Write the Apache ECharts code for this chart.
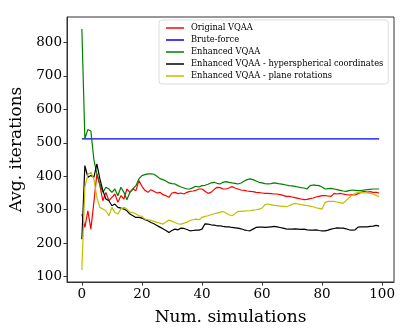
<!DOCTYPE html>
<html>
<head>
<meta charset="utf-8">
<script src="https://cdn.jsdelivr.net/npm/echarts@6/dist/echarts.min.js"></script>
<style>
  html, body { margin: 0; padding: 0; background: #fff; }
  #chart { width: 415px; height: 332px; }
</style>
</head>
<body>
<div id="chart"></div>
<script>
// simulation index 0..99
const simulations = Array.from({ length: 100 }, (_, i) => i);

const xTicks = [0, 20, 40, 60, 80, 100];
const yTicks = [100, 200, 300, 400, 500, 600, 700, 800];

const bruteForce = 512;

const originalVqaa = [
  287, 247, 297, 242, 322, 407, 372, 327, 352, 327,
  337, 347, 322, 342, 332, 362, 352, 362, 357, 387,
  370, 358, 352, 360, 355, 350, 352, 345, 342, 337,
  350, 352, 348, 350, 347, 352, 355, 356, 358, 362,
  362, 355, 349, 352, 360, 367, 366, 362, 362, 365,
  369, 365, 362, 359, 358, 356, 355, 354, 352, 351,
  350, 349, 349, 348, 347, 347, 345, 343, 340, 340,
  338, 336, 334, 332, 330, 331, 333, 335, 338, 340,
  342, 342, 341, 340, 349, 347, 349, 347, 345, 344,
  345, 344, 348, 352, 355, 353, 354, 352, 352, 350
];

const enhancedVqaa = [
  840, 512, 540, 535, 450, 407, 377, 352, 367, 362,
  352, 362, 342, 367, 352, 330, 352, 362, 372, 392,
  402, 405, 407, 407, 406, 400, 393, 390, 386, 380,
  378, 377, 372, 368, 365, 362, 362, 366, 370, 368,
  372, 373, 376, 380, 382, 379, 377, 382, 384, 382,
  380, 379, 377, 380, 385, 390, 392, 390, 386, 382,
  380, 378, 377, 378, 380, 379, 377, 376, 374, 372,
  371, 370, 368, 366, 365, 362, 372, 374, 373, 372,
  368, 362, 363, 364, 362, 360, 358, 356, 355, 357,
  359, 358, 357, 357, 359, 360, 361, 362, 362, 362
];

const hyperspherical = [
  212, 432, 397, 402, 397, 437, 392, 357, 332, 327,
  312, 317, 307, 305, 302, 297, 287, 282, 277, 277,
  275, 270, 267, 262, 258, 253, 248, 243, 238, 232,
  238, 242, 240, 245, 244, 241, 237, 238, 239, 239,
  242, 258, 257, 255, 254, 252, 252, 250, 249, 249,
  247, 246, 245, 243, 240, 238, 237, 242, 247, 248,
  248, 247, 248, 249, 250, 249, 247, 245, 243, 242,
  242, 243, 242, 241, 242, 240, 239, 239, 240, 238,
  237, 237, 239, 242, 244, 246, 245, 245, 243, 240,
  239, 240, 248, 249, 249, 249, 250, 251, 253, 251
];

const planeRotations = [
  120, 367, 405, 412, 392, 337, 307, 302, 297, 282,
  307, 292, 287, 302, 307, 302, 292, 292, 287, 282,
  280, 272, 270, 268, 265, 262, 260, 257, 263, 269,
  266, 262, 258, 257, 260, 263, 268, 270, 272, 270,
  277, 280, 282, 285, 288, 290, 292, 295, 290, 285,
  282, 288, 295, 295, 296, 297, 297, 299, 300, 302,
  305, 315, 317, 315, 313, 312, 311, 310, 309, 312,
  316, 319, 317, 315, 314, 312, 311, 309, 306, 304,
  302, 322, 325, 325, 325, 323, 321, 319, 328, 336,
  344, 348, 352, 351, 350, 350, 349, 347, 343, 339
];

const serif = 'DejaVu Serif';

function pairs(values) {
  return simulations.map((x, i) => [x, values[i]]);
}

function lineSeries(name, values, color) {
  return {
    name: name,
    type: 'line',
    symbol: 'none',
    smooth: false,
    animation: false,
    lineStyle: { color: color, width: 1.2 },
    itemStyle: { color: color },
    data: pairs(values),
  };
}

const chart = echarts.init(document.getElementById('chart'));

const option = {
  animation: false,
  grid: {
    left: 67,
    right: 21,
    top: 17,
    bottom: 50,
    show: true,
    borderColor: '#333',
    borderWidth: 1,
  },
  legend: {
    orient: 'vertical',
    left: 159,
    top: 20,
    icon: 'rect',
    itemWidth: 18,
    itemHeight: 1.5,
    itemGap: 4,
    padding: [4, 5, 4, 7],
    backgroundColor: '#fff',
    borderColor: '#dcdcdc',
    borderWidth: 1,
    borderRadius: 3,
    textStyle: { fontFamily: serif, fontSize: 8.3, color: '#000', padding: [0, 0, 0, 2] },
    data: [
      'Original VQAA',
      'Brute-force',
      'Enhanced VQAA',
      'Enhanced VQAA - hyperspherical coordinates',
      'Enhanced VQAA - plane rotations',
    ],
  },
  xAxis: {
    type: 'value',
    min: -4.95,
    max: 103.95,
    name: 'Num. simulations',
    nameLocation: 'middle',
    nameGap: 27,
    nameTextStyle: { fontFamily: serif, fontSize: 17, color: '#000' },
    axisLine: { show: true, onZero: false, lineStyle: { color: '#333' } },
    axisTick: { show: true, length: 3.5, customValues: xTicks, lineStyle: { color: '#333' } },
    axisLabel: { customValues: xTicks, fontFamily: serif, fontSize: 13.5, color: '#000', margin: 5 },
    splitLine: { show: false },
  },
  yAxis: {
    type: 'value',
    min: 84,
    max: 876,
    name: 'Avg. iterations',
    nameLocation: 'middle',
    nameGap: 40,
    nameTextStyle: { fontFamily: serif, fontSize: 17, color: '#000' },
    axisLine: { show: true, onZero: false, lineStyle: { color: '#333' } },
    axisTick: { show: true, length: 3.5, customValues: yTicks, lineStyle: { color: '#333' } },
    axisLabel: { customValues: yTicks, fontFamily: serif, fontSize: 13.5, color: '#000', margin: 5 },
    splitLine: { show: false },
  },
  series: [
    lineSeries('Original VQAA', originalVqaa, '#ff0000'),
    lineSeries('Brute-force', simulations.map(() => bruteForce), '#0000ff'),
    lineSeries('Enhanced VQAA', enhancedVqaa, '#008000'),
    lineSeries('Enhanced VQAA - hyperspherical coordinates', hyperspherical, '#000000'),
    lineSeries('Enhanced VQAA - plane rotations', planeRotations, '#bfbf00'),
  ],
};

chart.setOption(option);
</script>
</body>
</html>
